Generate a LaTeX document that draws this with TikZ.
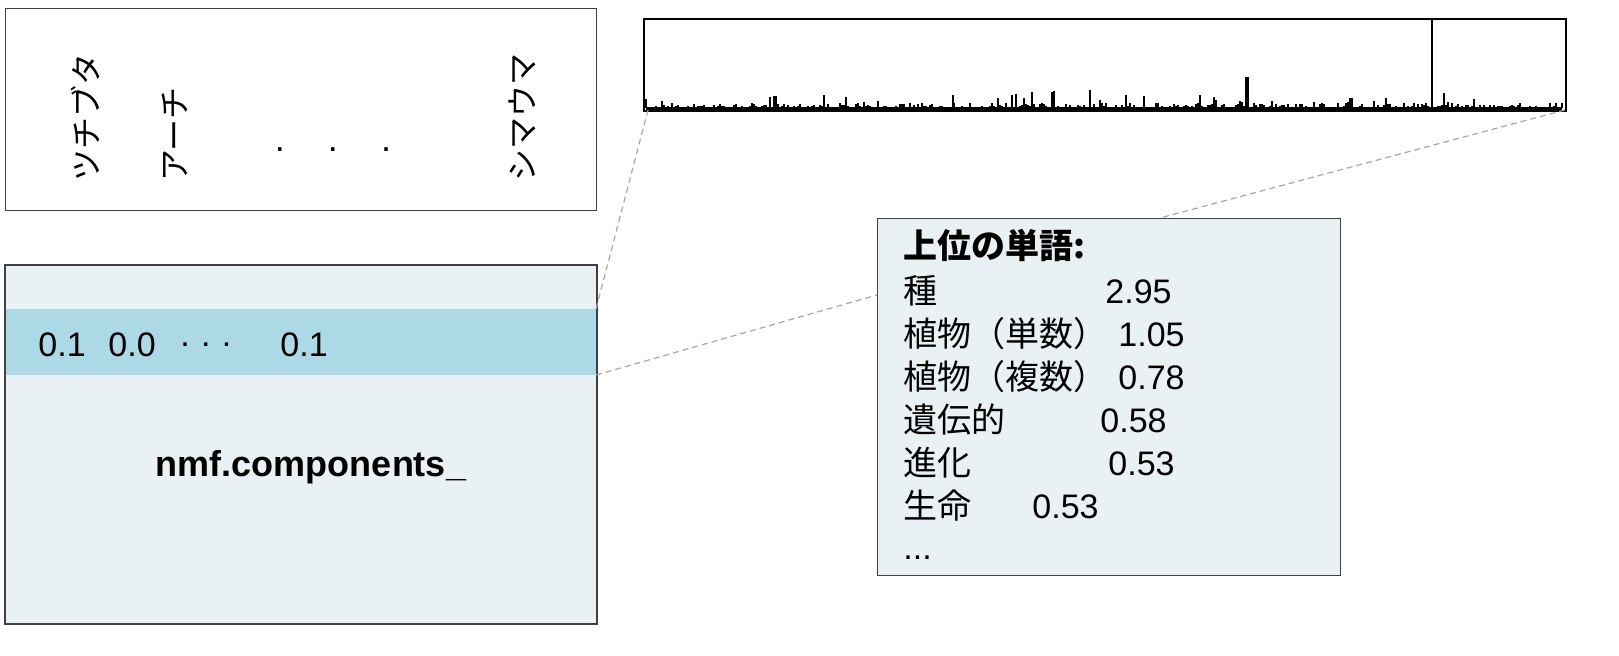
\documentclass[tikz,border=0pt]{standalone}
\usepackage{fontspec}
\setmainfont{Liberation Sans}
\newfontfamily\cjk{Noto Sans CJK JP}
\begin{document}
\begin{tikzpicture}[x=0.5pt,y=-0.5pt,
  box/.style={draw=black!75,line width=0.6pt,anchor=north west,inner sep=0pt},
  kata/.style={font=\cjk\fontsize{16}{16}\selectfont,rotate=90,anchor=west,inner sep=0pt},
  val/.style={font=\fontsize{17}{17}\selectfont,anchor=base west,inner sep=0pt},
  jw/.style={font=\cjk\fontsize{17}{17}\selectfont,anchor=base west,inner sep=0pt},
  conn/.style={draw=gray!70,dashed,line width=0.6pt,dash pattern=on 3pt off 2pt}]
\useasboundingbox (0,0) rectangle (1619,656);
% top-left box
\node[box,minimum width=295.5pt,minimum height=101pt] (tl) at (5,8) {};
\node[kata] (k1) at (85,182) {ツチブタ};
\node[kata] (k2) at (175,182) {アーチ};
\node[kata] (k3) at (522,182) {シマウマ};
\node[font=\fontsize{18}{18}\selectfont] (dots) at (333,150) {.\hspace{1.2em}.\hspace{1.2em}.};
% bottom-left box
\node[box,fill={rgb,255:red,234;green,241;blue,244},minimum width=295.5pt,minimum height=179pt] (bl) at (5,265) {};
\fill[fill={rgb,255:red,173;green,216;blue,230}] (5,309) rectangle (596,375);
\draw[draw=black!75,line width=0.6pt] (bl.north west) rectangle (bl.south east);
\coordinate (bandtop) at (596,309);
\coordinate (bandbot) at (596,375);
\node[font=\fontsize{17}{17}\selectfont,anchor=west,inner sep=0pt] (v1) at (38,345) {0.1};
\node[font=\fontsize{17}{17}\selectfont,anchor=west,inner sep=0pt] (v2) at (108,345) {0.0};
\node[font=\fontsize{17}{17}\selectfont,anchor=west,inner sep=0pt] (v3) at (180,345) {.\,\,.\,\,.};
\node[font=\fontsize{17}{17}\selectfont,anchor=west,inner sep=0pt] (v4) at (280,345) {0.1};
\node[font=\bfseries\fontsize{18}{18}\selectfont] (nmf) at (311,467) {nmf.components\_};
% histogram
\node[box,line width=0.9pt,draw=black,minimum width=461pt,minimum height=46pt] (hist) at (643,18) {};
\coordinate (hbl) at (648,110);
\coordinate (hbr) at (1565,110);
\pgfmathsetseed{11}
\foreach \x in {646,648,...,1562}{
  \pgfmathsetmacro\h{1+5*rnd^3+14*rnd^14}
  \draw[line width=1.1pt] (\x,108.5) -- (\x,108.5-\h);
}
\draw[line width=1.8pt] (646,108.5) -- (1562,108.5);
\draw[line width=1.6pt] (1247,108) -- (1247,77);
\draw[line width=1.2pt] (953,108) -- (953,95);
\draw[line width=1.2pt] (1054,108) -- (1054,91);
\draw[line width=1pt] (1432,108) -- (1432,19);
% text box
\node[box,fill={rgb,255:red,234;green,241;blue,244},minimum width=231.5pt,minimum height=178.5pt] (tb) at (877,218) {};
\coordinate (tbtop) at (1160,218);
\coordinate (tbleft) at (877,295);
\node[font=\cjk\bfseries\fontsize{17}{17}\selectfont,anchor=base west,inner sep=0pt] (t0) at (903,259) {上位の単語:};
\node[jw] (w1) at (903,304) {種};            \node[val] (n1) at (1105,304) {2.95};
\node[jw] (w2) at (903,347) {植物（単数）};   \node[val] (n2) at (1118,347) {1.05};
\node[jw] (w3) at (903,390) {植物（複数）};   \node[val] (n3) at (1118,390) {0.78};
\node[jw] (w4) at (903,433) {遺伝的};         \node[val] (n4) at (1100,433) {0.58};
\node[jw] (w5) at (903,476) {進化};           \node[val] (n5) at (1108,476) {0.53};
\node[jw] (w6) at (903,519) {生命};           \node[val] (n6) at (1032,519) {0.53};
\node[val] (w7) at (903,560) {...};
% connectors
\draw[conn] (bandtop) -- (hbl);
\draw[conn] (bandbot) -- (tbleft);
\draw[conn] (hbr) -- (tbtop);
\end{tikzpicture}
\end{document}
